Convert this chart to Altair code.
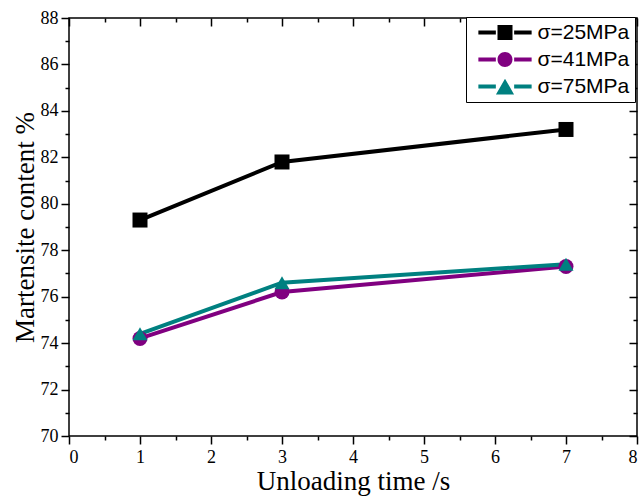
import altair as alt
import pandas as pd

# ---- data ----
times = [1, 3, 7]
s25 = [79.3, 81.8, 83.2]
s41 = [74.2, 76.2, 77.3]
s75 = [74.4, 76.6, 77.4]
series = ["σ=25MPa", "σ=41MPa", "σ=75MPa"]
x_major = [0, 1, 2, 3, 4, 5, 6, 7, 8]
x_minor = [0.5, 1.5, 2.5, 3.5, 4.5, 5.5, 6.5, 7.5]
y_major = [70, 72, 74, 76, 78, 80, 82, 84, 86, 88]
y_minor = [71, 73, 75, 77, 79, 81, 83, 85, 87]

colors = ["#000000", "#800080", "#008080"]
shapes = ["square", "circle", "triangle-up"]
sizes = [225, 225, 380]
# legend symbols: line segment + marker + line segment
leg_line = "M-3.55,-0.28H-1.22V0.28H-3.55Z M1.22,-0.28H3.55V0.28H1.22Z"
leg_shapes = [
    "M-1,-1H1V1H-1Z " + leg_line,
    "M1,0A1,1 0 1,1 -1,0A1,1 0 1,1 1,0Z " + leg_line,
    "M0,-1.05L1.21,1.05L-1.21,1.05Z " + leg_line,
]

rows = []
for name, vals in zip(series, [s25, s41, s75]):
    for t, v in zip(times, vals):
        rows.append({"time": t, "value": v, "series": name})
df = pd.DataFrame(rows)

SERIF = "Liberation Serif"
xscale = alt.Scale(domain=[0, 8], nice=False, zero=False)
yscale = alt.Scale(domain=[70, 88], nice=False, zero=False)

def cscale():
    return alt.Scale(domain=series, range=colors)

common = dict(grid=False, domain=False, tickColor="black", tickWidth=1.5,
              labelFont=SERIF, labelColor="black", titleFont=SERIF,
              titleColor="black", titleFontWeight="normal")

ax_bottom = alt.Axis(orient="bottom", values=x_major, tickSize=8, labelFontSize=18,
                     labelPadding=4, format="d", title="Unloading time /s",
                     titleFontSize=27, titlePadding=2, **common)
ax_left = alt.Axis(orient="left", values=y_major, tickSize=8, labelFontSize=18,
                   labelPadding=3, format="d", title="Martensite content %",
                   titleFontSize=27, titlePadding=1, **common)
ax_bottom_minor = alt.Axis(orient="bottom", values=x_minor, tickSize=4, labels=False,
                           title=None, **common)
ax_left_minor = alt.Axis(orient="left", values=y_minor, tickSize=4, labels=False,
                         title=None, **common)
ax_top = alt.Axis(orient="top", values=x_major, tickSize=8, offset=-8, labels=False,
                  title=None, **common)
ax_right = alt.Axis(orient="right", values=y_major, tickSize=8, offset=-8, labels=False,
                    title=None, **common)
ax_top_minor = alt.Axis(orient="top", values=x_minor, tickSize=4, offset=-4, labels=False,
                        title=None, **common)
ax_right_minor = alt.Axis(orient="right", values=y_minor, tickSize=4, offset=-4,
                          labels=False, title=None, **common)

base = alt.Chart(df)

lines = base.mark_line(strokeWidth=4).encode(
    x=alt.X("time:Q", scale=xscale, axis=ax_bottom),
    y=alt.Y("value:Q", scale=yscale, axis=ax_left),
    color=alt.Color("series:N", scale=cscale(), legend=None),
)

points = base.mark_point(filled=True, opacity=1).encode(
    x=alt.X("time:Q", scale=xscale, axis=ax_bottom_minor),
    y=alt.Y("value:Q", scale=yscale, axis=ax_left_minor),
    color=alt.Color("series:N", scale=cscale(), legend=None),
    shape=alt.Shape("series:N", scale=alt.Scale(domain=series, range=shapes), legend=None),
    size=alt.Size("series:N", scale=alt.Scale(domain=series, range=sizes), legend=None),
)

legend_def = dict(title=None, orient="none", legendX=397, legendY=-1, padding=5,
                  strokeColor="black", fillColor="white", labelFont="Liberation Sans",
                  labelFontSize=21, labelColor="black", symbolOffset=23.5,
                  labelOffset=22, rowPadding=5, symbolSize=225, symbolOpacity=1,
                  symbolStrokeWidth=0, labelLimit=300)

legend_layer = base.mark_point(filled=True, opacity=0, size=225).encode(
    x=alt.X("time:Q", scale=xscale, axis=ax_top),
    y=alt.Y("value:Q", scale=yscale, axis=ax_right),
    color=alt.Color("series:N", scale=cscale(), legend=alt.Legend(**legend_def)),
    shape=alt.Shape("series:N", scale=alt.Scale(domain=series, range=leg_shapes),
                    legend=alt.Legend(**legend_def)),
)

minor_mirror = base.mark_point(opacity=0).encode(
    x=alt.X("time:Q", scale=xscale, axis=ax_top_minor),
    y=alt.Y("value:Q", scale=yscale, axis=ax_right_minor),
)

chart = alt.layer(lines, points, legend_layer, minor_mirror).resolve_axis(
    x="independent", y="independent"
).resolve_scale(
    color="independent", shape="independent", size="independent"
).properties(
    width=568, height=418,
    autosize=alt.AutoSizeParams(type="none"),
    padding={"left": 69, "top": 18, "right": 4, "bottom": 60},
    background="white",
).configure_view(
    stroke="black", strokeWidth=1.5
).configure_legend(
    strokeWidth=1, cornerRadius=0
)

chart.save("out.html", embed_options={"renderer": "svg", "actions": False})
